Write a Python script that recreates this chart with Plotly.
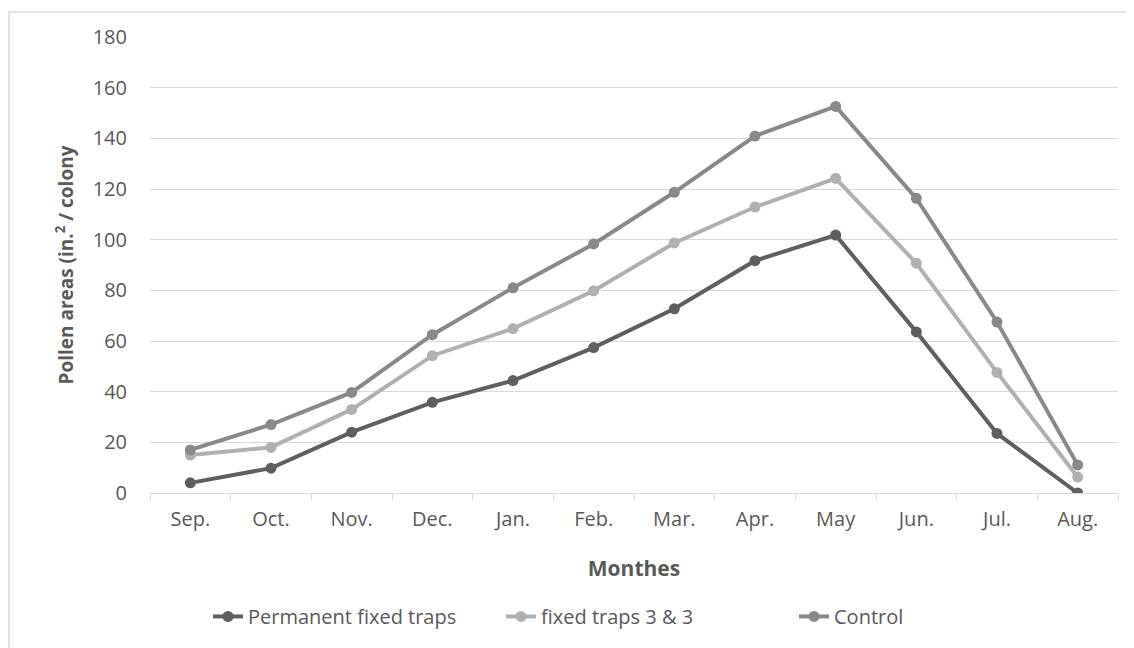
import plotly.graph_objects as go

months = ["Sep.", "Oct.", "Nov.", "Dec.", "Jan.", "Feb.", "Mar.", "Apr.", "May", "Jun.", "Jul.", "Aug."]
permanent = [4, 9.8, 24, 35.8, 44.4, 57.4, 72.7, 91.7, 101.8, 63.6, 23.5, 0]
fixed33 = [15, 18, 33, 54.2, 64.9, 79.8, 98.7, 112.9, 124.2, 90.7, 47.6, 6.3]
control = [17, 27, 39.7, 62.5, 81, 98.3, 118.7, 140.9, 152.6, 116.3, 67.5, 11.1]

series = [
    ("Permanent fixed traps", permanent, "#5f5f5f"),
    ("fixed traps 3 & 3", fixed33, "#b0b0b0"),
    ("Control", control, "#898989"),
]

fig = go.Figure()
for name, vals, col in series:
    fig.add_trace(go.Scatter(
        x=months, y=vals, name=name, mode="lines+markers",
        line=dict(color=col, width=4),
        marker=dict(color=col, size=11),
    ))

fnt = "Open Sans, DejaVu Sans, sans-serif"
# page body has an 8px margin, so the figure is sized to fit the window
fig.update_layout(
    width=1126, height=640,
    margin=dict(l=142, r=16, t=29, b=153),
    paper_bgcolor="white", plot_bgcolor="white",
    font=dict(family=fnt, color="#595959", size=20),
    showlegend=True,
    legend=dict(orientation="h", x=(208 - 150) / 968, xanchor="left", y=-0.2707, yanchor="middle",
                font=dict(size=20, color="#595959"), tracegroupgap=0,
                entrywidth=248, entrywidthmode="pixels"),
    xaxis=dict(
        type="category", range=[-0.5, 11.5], showgrid=False, tickson="boundaries",
        ticks="outside", ticklen=6, tickcolor="#d9d9d9", tickwidth=1,
        showline=True, linecolor="#d9d9d9", linewidth=1,
        ticklabelstandoff=8,
        tickfont=dict(size=20, color="#595959"),
        title=dict(text="<b>Monthes</b>", font=dict(size=21, color="#595959"), standoff=30),
    ),
    yaxis=dict(
        range=[0, 180], dtick=20, showgrid=True, gridcolor="#d9d9d9", gridwidth=1,
        zeroline=False, showline=False, ticks="", ticklabelstandoff=22,
        tickfont=dict(size=20, color="#595959"),
        title=dict(text="<b>Pollen areas (in.<sup>2</sup> / colony</b>", font=dict(size=19, color="#595959"), standoff=14),
    ),
    shapes=[dict(type="rect", xref="paper", yref="paper",
                 x0=(9 - 150) / 968, x1=(1145 - 150) / 968,
                 y0=(495 - 660) / 458, y1=(495 - 12) / 458,
                 line=dict(color="#d9d9d9", width=1.5), layer="below")],
)

fig.write_html("out.html")
